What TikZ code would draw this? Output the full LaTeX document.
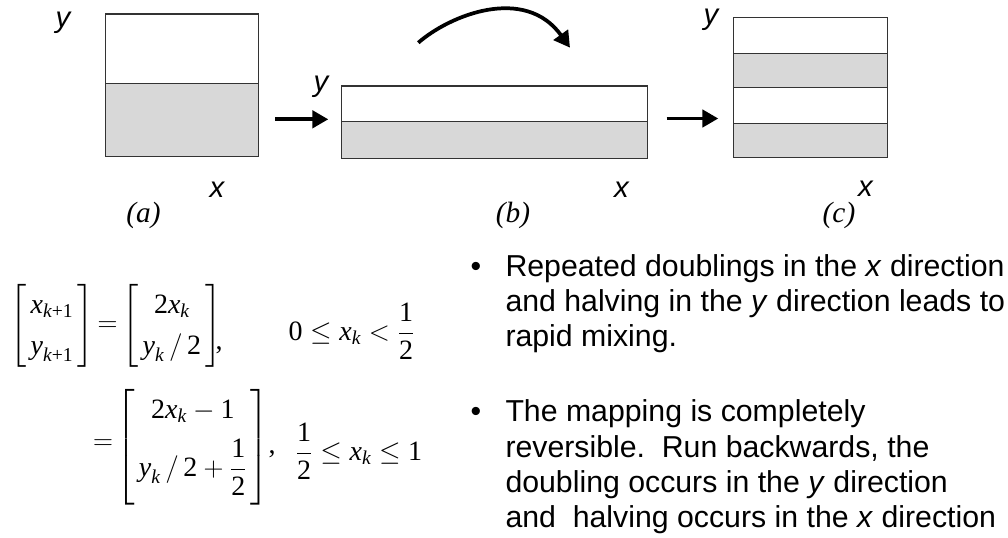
\documentclass[tikz,border=0pt]{standalone}
\usepackage{amsmath}
\usepackage[no-math]{fontspec}
\setmainfont{Liberation Serif}
\setsansfont{Liberation Sans}
\usetikzlibrary{arrows.meta}

\definecolor{bandgray}{RGB}{216,216,216}
\newcommand{\mv}[1]{\mbox{\itshape #1}}
\newcommand{\nv}[1]{\mbox{#1}}
\newcommand{\sv}[1]{\mbox{\fontsize{14.7}{16}\selectfont\itshape #1}}
\renewcommand{\arraystretch}{1.25}
\setlength{\arraycolsep}{3pt}

\tikzset{every picture/.style={line width=0.75pt}}
\tikzset{
  band/.style={draw=black!80,line width=0.8pt},
  fatarrow/.style={line width=2.8pt,-{Triangle[length=12pt,width=13pt]}},
  axislabel/.style={inner sep=0pt,font=\sffamily\itshape\fontsize{22}{26}\selectfont},
  caption/.style={inner sep=0pt,font=\itshape\fontsize{22}{26}\selectfont},
  eqpart/.style={inner sep=0pt,anchor=west,font=\fontsize{21}{25}\selectfont},
  bulletmark/.style={inner sep=0pt,anchor=base,font=\sffamily\fontsize{22.7}{26.5}\selectfont},
  bullettext/.style={inner sep=0pt,anchor=base west,font=\sffamily\fontsize{22.7}{26.5}\selectfont},
}

\begin{document}
\begin{tikzpicture}[x=0.75pt,y=0.75pt,yscale=-1,xscale=1]
\useasboundingbox (0,0) rectangle (1008,537);

%Shape: Rectangle (a)
\draw[band,fill=white] (105.5,14) rectangle (258.3,83.5);
\draw[band,fill=bandgray] (105.5,83.5) rectangle (258.3,156.7);
%Shape: Rectangle (b)
\draw[band,fill=white] (341.7,86) rectangle (647.7,121.7);
\draw[band,fill=bandgray] (341.7,121.7) rectangle (647.7,158.3);
%Shape: Rectangle (c)
\draw[band,fill=white] (733.3,17.3) rectangle (887.3,53.3);
\draw[band,fill=bandgray] (733.3,53.3) rectangle (887.3,87.3);
\draw[band,fill=white] (733.3,87.3) rectangle (887.3,123.3);
\draw[band,fill=bandgray] (733.3,123.3) rectangle (887.3,157.3);

%Straight Lines
\coordinate (abS) at (275,119.3);
\coordinate (abE) at (328.3,119.3);
\coordinate (bcS) at (666.7,118.5);
\coordinate (bcE) at (718.3,118.5);
\draw[fatarrow] (abS) -- (abE);
\draw[fatarrow] (bcS) -- (bcE);

%Curve Lines
\coordinate (foldS) at (418.3,42.7);
\coordinate (foldE) at (570,47.7);
\draw[fatarrow] (foldS) .. controls (450,15) and (525,-15) .. (foldE);

% Text Node
\draw (63,22.5) node [axislabel] (ya) {y};
\draw (217,189.5) node [axislabel] (xa) {x};
\draw (143.5,215) node [caption] (capa) {(a)};
% Text Node
\draw (321,87) node [axislabel] (yb) {y};
\draw (621.5,189.5) node [axislabel] (xb) {x};
\draw (513,215) node [caption] (capb) {(b)};
% Text Node
\draw (711,19.5) node [axislabel] (yc) {y};
\draw (865.5,188.5) node [axislabel] (xc) {x};
\draw (839,215) node [caption] (capc) {(c)};

% Text Node
\draw (10,325.5) node [eqpart] (lhsA) {$\left[\begin{array}{c}\mv{x}_{\sv{k\upshape +1}}\\ \mv{y}_{\sv{k\upshape +1}}\end{array}\right]$};
\draw (107.5,327) node [eqpart,anchor=center] (eqA) {$=$};
\draw (122,325.5) node [eqpart] (rhsA) {$\left[\begin{array}{c}\nv{2}\mv{x}_{\sv{k}}\\ \mv{y}_{\sv{k}}\,/\,\nv{2}\end{array}\right]$};
\draw (215,349) node [eqpart,anchor=base west] (comA) {,};
\draw (288,331) node [eqpart] (condA) {$\nv{0}\le \mv{x}_{\sv{k}}<\dfrac{\nv{1}}{\nv{2}}$};
% Text Node
\draw (103,445) node [eqpart,anchor=center] (eqB) {$=$};
\draw (116,447.5) node [eqpart] (rhsB) {$\left[\begin{array}{c}\rule{0pt}{24pt}\nv{2}\mv{x}_{\sv{k}}-\nv{1}\\[6pt] \mv{y}_{\sv{k}}\,/\,\nv{2}+\dfrac{\nv{1}}{\nv{2}}\rule[-24pt]{0pt}{24pt}\end{array}\right]$};
\draw (268,453) node [eqpart,anchor=base west] (comB) {,};
\draw (295,451) node [eqpart] (condB) {$\dfrac{\nv{1}}{\nv{2}}\le \mv{x}_{\sv{k}}\le \nv{1}$};

% Text Node
\draw (476,276) node [bulletmark] (dotA) {\textbullet};
\draw (505,276) node [bullettext] (ptA) {\parbox[t]{500pt}{Repeated doublings in the \textit{x} direction\\ and halving in the \textit{y} direction leads to\\ rapid mixing.}};
% Text Node
\draw (476,421.7) node [bulletmark] (dotB) {\textbullet};
\draw (505,421.7) node [bullettext] (ptB) {\parbox[t]{500pt}{The mapping is completely\\ reversible.\ \ Run backwards, the\\ doubling occurs in the \textit{y} direction\\ and\ \ halving occurs in the \textit{x} direction}};

\end{tikzpicture}
\end{document}
